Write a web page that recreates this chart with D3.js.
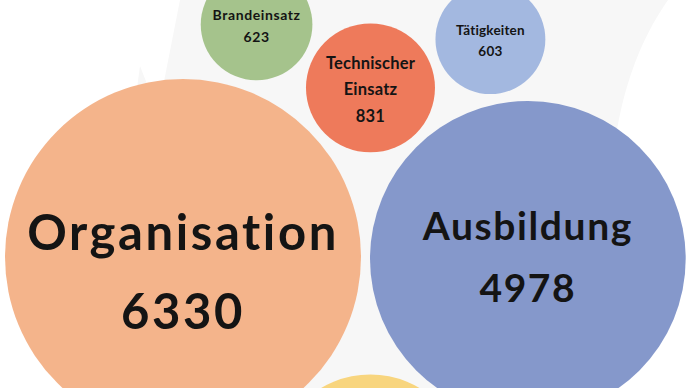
<!DOCTYPE html>
<html>
<head>
<meta charset="utf-8">
<script src="https://cdn.jsdelivr.net/npm/d3@7"></script>
<style>
  body { margin: 0; background: #fff; }
  svg { display: block; }
</style>
</head>
<body>
<div id="graph"></div>
<script>
// data
var categories = ['Organisation', 'Ausbildung', 'Technischer Einsatz', 'Brandeinsatz', 'Tätigkeiten', null]
var values = [6330, 4978, 831, 623, 603, 1840]   // last one is cut off at the bottom, value estimated
var labelLines = [['Organisation'], ['Ausbildung'], ['Technischer', 'Einsatz'], ['Brandeinsatz'], ['Tätigkeiten'], []]

// styles
var colors = ['#f4b48b', '#8598cb', '#ee7a5b', '#a5c38c', '#a3b8e0', '#f8d57e']
var fontSize = {'Organisation': 49, 'Ausbildung': 39, 'Technischer Einsatz': 16.5, 'Brandeinsatz': 14, 'Tätigkeiten': 13.5}
var spacing = {'Organisation': 2.6, 'Ausbildung': 1.6, 'Brandeinsatz': 0.6}
var textShift = {'Organisation': 15, 'Ausbildung': -2}

var width = 690, height = 388, gap = 10

var svg = d3.select('#graph').append('svg')
  .attr('width', width).attr('height', height)

// faint watermark behind the bubbles
svg.append('path')
  .attr('d', 'M130,388 L132,125 L140,66 L158,112 L180,0 L668,0 C640,40 618,95 612,170 L612,388 Z')
  .attr('fill', '#f7f7f7')

var r = d3.scaleSqrt().domain([0, d3.max(values)]).range([0, 178])

var nodes = categories.map((d, i) => ({
  name: d, value: values[i], lines: labelLines[i], r: r(values[i]), color: colors[i]
}))
var [org, aus, tech, brand, tat, rest] = nodes

// put circle c so it touches a and b (with gap), side picks which of the two spots
function touch(a, b, c, side){
  var dx = b.x - a.x, dy = b.y - a.y, d = Math.hypot(dx, dy)
  var ra = a.r + c.r + gap, rb = b.r + c.r + gap
  var l = (d*d + ra*ra - rb*rb)/(2*d)
  var h = Math.sqrt(Math.max(0, ra*ra - l*l))
  var ux = dx/d, uy = dy/d
  c.x = a.x + l*ux - side*h*uy
  c.y = a.y + l*uy + side*h*ux
}

// biggest bubble sits near the left edge, the rest pack around it
org.x = 5 + org.r
org.y = 79 + org.r
var ang = 0.3*Math.PI/180
aus.x = org.x + (org.r + aus.r + gap - 1)*Math.cos(ang)
aus.y = org.y + (org.r + aus.r + gap - 1)*Math.sin(ang)
touch(org, aus, tech, -1)
touch(org, tech, brand, -1)
touch(aus, tech, tat, 1)
touch(org, aus, rest, 1)

var g = svg.selectAll('g.bubble').data(nodes).join('g')
  .attr('class', 'bubble')
  .attr('transform', d => `translate(${d.x},${d.y})`)

g.append('circle')
  .attr('r', d => d.r)
  .attr('fill', d => d.color)

g.filter(d => d.name).each(function(d){
  var fs = fontSize[d.name]
  var lh = fs*1.6
  var rows = d.lines.concat(d3.format('d')(d.value))
  var shift = textShift[d.name] || 1.5
  d3.select(this).selectAll('text').data(rows).join('text')
    .attr('text-anchor', 'middle')
    .attr('y', (t, i) => shift + (i - (rows.length - 1)/2)*lh + 0.36*fs)
    .attr('font-family', 'Lato, sans-serif')
    .attr('font-weight', 700)
    .attr('font-size', fs)
    .attr('letter-spacing', spacing[d.name] || 0.2)
    .attr('fill', '#141414')
    .text(t => t)
})
</script>
</body>
</html>
